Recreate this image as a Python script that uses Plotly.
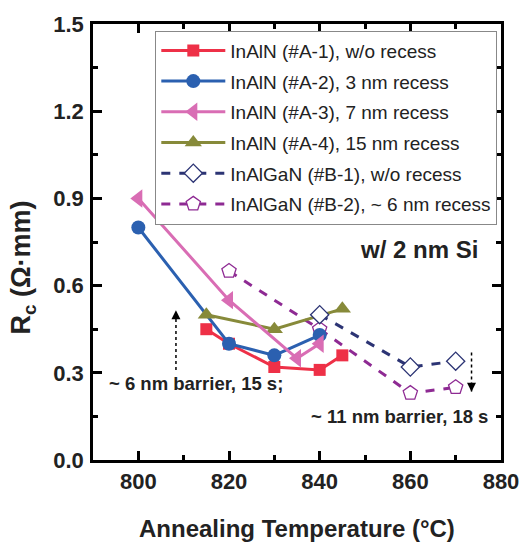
import plotly.graph_objects as go

# Contact resistance vs. annealing temperature
a1_t = [815, 820, 830, 840, 845]
a1_rc = [0.45, 0.40, 0.32, 0.31, 0.36]

a2_t = [800, 820, 830, 840]
a2_rc = [0.80, 0.40, 0.36, 0.43]

a3_t = [800, 820, 835, 840]
a3_rc = [0.90, 0.55, 0.35, 0.40]

a4_t = [815, 830, 845]
a4_rc = [0.50, 0.45, 0.52]

b1_t = [840, 860, 870]
b1_rc = [0.50, 0.32, 0.34]

b2_t = [820, 840, 860, 870]
b2_rc = [0.65, 0.45, 0.23, 0.25]

names = [
    "InAlN (#A-1), w/o recess",
    "InAlN (#A-2), 3 nm recess",
    "InAlN (#A-3), 7 nm recess",
    "InAlN (#A-4), 15 nm recess",
    "InAlGaN (#B-1), w/o recess",
    "InAlGaN (#B-2), ~ 6 nm recess",
]

x_ticks = [800, 820, 840, 860, 880]
y_ticks = [0.0, 0.3, 0.6, 0.9, 1.2, 1.5]

# arrow guides (x, y_start, y_tip)
up_arrow = [808.3, 0.31, 0.515]
down_arrow = [873.5, 0.37, 0.235]

FONT = "Liberation Sans, Arial, sans-serif"

fig = go.Figure()

def add_series(x, y, name, color, symbol, size, dash, rank, open_marker=False):
    fig.add_trace(go.Scatter(
        x=x, y=y, name=name, mode="lines+markers",
        line=dict(color=color, width=3, dash=dash),
        marker=dict(symbol=symbol, size=size, color="white" if open_marker else color,
                    line=dict(color=color, width=1.3 if open_marker else 0)),
        legendrank=rank, legendgroup=name,
    ))

# drawing order (bottom to top)
add_series(b2_t, b2_rc, names[5], "#8E2A93", "pentagon", 15, "dash", 6, open_marker=True)
add_series(a1_t, a1_rc, names[0], "#EE3047", "square", 12, "solid", 1)
add_series(a2_t, a2_rc, names[1], "#2B60B0", "circle", 14, "solid", 2)
add_series(a4_t, a4_rc, names[3], "#878A3A", "triangle-up", 15, "solid", 4)
add_series(a3_t, a3_rc, names[2], "#D96DB4", "triangle-left", 16, "solid", 3)
add_series(b1_t, b1_rc, names[4], "#2C3474", "diamond", 14, "dash", 5, open_marker=True)

# dotted arrows
for arr, sym in ((up_arrow, "arrow-up"), (down_arrow, "arrow-down")):
    fig.add_trace(go.Scatter(
        x=[arr[0], arr[0]], y=[arr[1], arr[2]], mode="lines", showlegend=False,
        line=dict(color="black", width=1.5, dash="dot"), hoverinfo="skip"))
    fig.add_trace(go.Scatter(
        x=[arr[0]], y=[arr[2]], mode="markers", showlegend=False,
        marker=dict(symbol=sym, size=9, color="black"), hoverinfo="skip"))

axis_common = dict(
    showgrid=False, zeroline=False, showline=True, linecolor="black", linewidth=2.5,
    mirror="ticks", ticks="inside", ticklen=9, tickwidth=2.5, tickcolor="black",
    tickfont=dict(family=FONT, size=22, color="#222", weight="bold"),
    ticklabeloverflow="allow",
)

fig.update_xaxes(range=[790, 880], tickvals=x_ticks, ticklabelstandoff=0,
                 minor=dict(ticks="inside", ticklen=5, tickwidth=2.5, dtick=10, tick0=790,
                            tickcolor="black"),
                 **axis_common)
fig.update_yaxes(range=[0, 1.5], tickvals=y_ticks, tickformat=".1f", ticklabelstandoff=2,
                 minor=dict(ticks="inside", ticklen=5, tickwidth=2.5, dtick=0.15, tick0=0,
                            tickcolor="black"),
                 **axis_common)

annotations = [
    dict(x=0.5, y=-0.158, xref="paper", yref="paper", text="Annealing Temperature (°C)",
         showarrow=False, font=dict(family=FONT, size=24, color="#222", weight="bold"),
         xanchor="center", yanchor="middle"),
    dict(x=-0.172, y=0.441, xref="paper", yref="paper", text="R<sub>c</sub> (Ω·mm)",
         textangle=-90, showarrow=False,
         font=dict(family=FONT, size=27, color="#222", weight="bold"),
         xanchor="center", yanchor="middle"),
    dict(x=862.0, y=0.723, text="w/ 2 nm Si", showarrow=False,
         font=dict(family=FONT, size=24, color="#222", weight="bold")),
    dict(x=812.8, y=0.262, text="~ 6 nm barrier, 15 s;", showarrow=False,
         font=dict(family=FONT, size=18.5, color="#222", weight="bold")),
    dict(x=857.6, y=0.15, text="~ 11 nm barrier, 18 s", showarrow=False,
         font=dict(family=FONT, size=18.5, color="#222", weight="bold")),
]

fig.update_layout(
    width=531, height=544,
    margin=dict(l=93, r=19, t=19, b=84),
    plot_bgcolor="white", paper_bgcolor="white",
    annotations=annotations,
    legend=dict(x=0.1527, y=0.985, xanchor="left", yanchor="top",
                bordercolor="#888", borderwidth=1, bgcolor="white",
                font=dict(family=FONT, size=19, color="#222"),
                itemwidth=64, tracegroupgap=3, traceorder="grouped"),
)

fig.write_html("out.html")
